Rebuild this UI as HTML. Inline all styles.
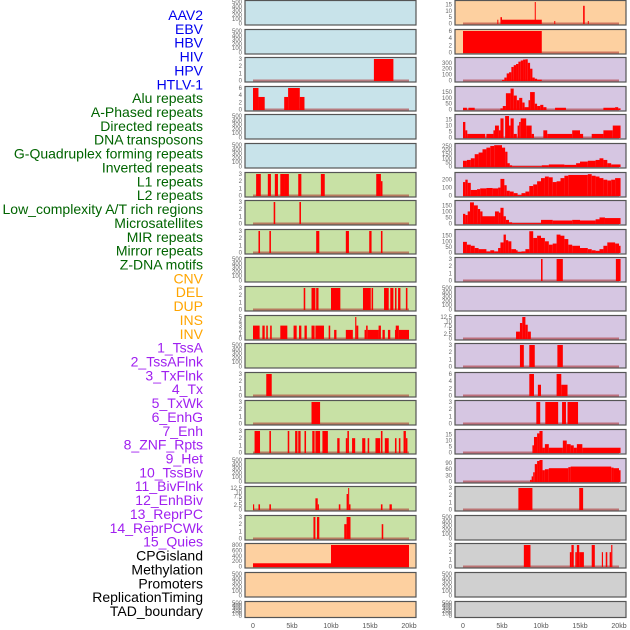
<!DOCTYPE html>
<html><head><meta charset="utf-8">
<style>
html,body{margin:0;padding:0;background:#fff;}
svg{display:block;font-family:"Liberation Sans",sans-serif;}
</style></head>
<body>
<svg id="chart" width="630" height="630" viewBox="0 0 630 630"></svg>
<script>
const labels=["AAV2","EBV","HBV","HIV","HPV","HTLV-1","Alu repeats","A-Phased repeats","Directed repeats","DNA transposons","G-Quadruplex forming repeats","Inverted repeats","L1 repeats","L2 repeats","Low_complexity A/T rich regions","Microsatellites","MIR repeats","Mirror repeats","Z-DNA motifs","CNV","DEL","DUP","INS","INV","1_TssA","2_TssAFlnk","3_TxFlnk","4_Tx","5_TxWk","6_EnhG","7_Enh","8_ZNF_Rpts","9_Het","10_TssBiv","11_BivFlnk","12_EnhBiv","13_ReprPC","14_ReprPCWk","15_Quies","CPGisland","Methylation","Promoters","ReplicationTiming","TAD_boundary"];
const labelColors=["#0000ee","#0000ee","#0000ee","#0000ee","#0000ee","#0000ee","#006400","#006400","#006400","#006400","#006400","#006400","#006400","#006400","#006400","#006400","#006400","#006400","#006400","#ffa500","#ffa500","#ffa500","#ffa500","#ffa500","#a020f0","#a020f0","#a020f0","#a020f0","#a020f0","#a020f0","#a020f0","#a020f0","#a020f0","#a020f0","#a020f0","#a020f0","#a020f0","#a020f0","#a020f0","#000","#000","#000","#000","#000"];
const xTicks=[0,5,10,15,20];
const xTickLabels=["0","5kb","10kb","15kb","20kb"];
const emptyTicks=[0,100,200,300,400,500];
// left column segments [startKb,endKb,value]
const segL2=[[15.5,18,3]];
const segL3=[[0,0.7,6],[0.7,1.5,3.5],[4,4.5,3.5],[4.5,6,6],[6,6.6,3.5]];
const segL6=[[0.4,1.0,3],[1.9,2.3,3],[2.8,3.2,3],[3.5,4.1,3],[4.1,4.6,3],[5.8,6.2,3],[8.7,9.2,3],[15.8,16.4,3],[16.4,16.6,2]];
const segL7=[[2.65,2.85,3],[5.95,6.15,3]];
const segL8=[[0.7,0.9,3],[2.1,2.3,3],[8.1,8.5,3],[11.9,12.3,3],[14.9,15.2,3],[16.4,16.6,3]];
const segL10=[[6.5,6.7,3],[7.5,8.0,3],[8.1,8.4,3],[10.0,11.2,3],[14.1,15.1,3],[15.2,15.4,3],[16.8,17.4,3],[17.6,18.0,3],[18.2,18.4,3],[18.6,18.9,3],[19.6,19.8,3]];
const segL11=[[0,0.85,3],[1.2,1.5,3],[1.7,1.9,3],[2.2,2.4,3],[3.5,4.4,3],[5.2,5.6,3],[5.9,6.2,3],[6.6,6.9,3],[7.5,7.9,3],[8.0,9.1,3],[9.7,9.9,3],[10.4,10.7,2],[11.9,12.8,2],[13.1,13.25,5],[13.25,13.5,3],[14.3,14.5,2],[14.5,14.7,3],[14.7,16.1,2],[16.1,16.4,3],[16.6,16.9,2],[17.3,17.6,2],[18.2,18.3,2],[18.3,18.7,3],[18.7,20,2]];
const segL13=[[1.7,2.4,3]];
const segL14=[[7.5,8.6,3]];
const segL15=[[0.2,0.9,3],[2.1,2.3,3],[4.45,4.65,3],[5.4,5.7,3],[5.8,6.1,3],[6.6,6.8,3],[7.6,7.9,3],[8.0,8.6,3],[8.9,9.6,3],[10.8,11.1,2],[11.9,12.1,2],[12.1,12.3,3],[12.7,13.1,2],[14.0,14.4,2],[14.7,14.9,2],[15.7,16.3,2],[16.4,16.6,3],[16.9,17.4,2],[18.2,18.4,2],[18.7,18.9,2],[19.3,19.6,3],[19.6,19.8,2]];
const segL17=[[0,0.15,3],[0.7,0.9,3],[2.1,2.3,3],[8.0,8.3,6.5],[8.3,8.45,3],[11.0,11.2,3],[12.0,12.2,9],[12.2,12.3,12.5],[12.3,12.5,3],[16.4,16.6,3],[17.5,17.8,3]];
const segL18=[[7.75,8.0,3],[8.2,8.5,3],[11.7,12.0,2],[12.0,12.5,3],[16.5,16.7,2]];
const segL19=[[0,10,120],[10,20,800]];
// right column segments
const segR0=[[4.4,4.5,3],[4.8,5.0,5],[5.0,10.1,3],[9.2,9.3,17],[11.7,11.8,2],[15.4,15.6,14],[16.0,16.1,2]];
const segR1=[[0,10.1,6]];
const segR2=[[5.0,5.3,10],[5.3,5.6,50],[5.6,5.9,120],[5.9,6.2,140],[6.2,6.5,230],[6.5,6.8,260],[6.8,7.1,280],[7.1,7.4,320],[7.4,7.7,340],[7.7,8.0,355],[8.0,8.3,360],[8.3,8.6,300],[8.6,8.9,200],[8.9,9.2,50],[9.2,9.5,30],[9.5,10.1,15]];
const segR3=[[0,0.5,15],[0.7,1.5,15],[4.8,5.1,10],[5.1,5.5,30],[5.5,6.1,140],[6.1,6.5,180],[6.5,6.9,120],[6.9,7.2,80],[7.2,7.6,100],[7.6,7.9,60],[7.9,8.4,20],[8.4,8.6,80],[8.6,9.2,150],[9.2,9.5,50],[9.5,9.9,30],[9.9,10.3,40],[10.3,10.7,20],[11.8,13.2,15],[18.0,19.5,15],[19.5,19.9,20],[19.9,20.2,10]];
const segR4=[[0,0.3,13],[0.3,0.55,6],[0.55,2.85,3],[3.0,3.9,3],[3.9,4.1,6],[4.1,4.6,10],[4.6,4.8,6],[4.8,5.2,16],[5.4,5.9,18],[5.9,6.1,10],[6.1,6.5,16],[6.5,6.9,3],[7.0,7.2,10],[7.2,7.4,13],[7.4,8.1,16],[8.1,8.8,10],[8.8,9.1,3],[10.3,10.8,6],[10.8,14.0,3],[14.0,15.0,6],[15.0,15.4,3],[16.5,18.0,3],[18.0,19.2,6],[19.2,20.2,10]];
const segR5=[[0,0.5,70],[0.5,1.0,80],[1.0,1.5,100],[1.5,2.0,150],[2.0,2.5,170],[2.5,3.0,210],[3.0,3.5,230],[3.5,4.0,250],[4.0,5.0,260],[5.0,5.4,230],[5.4,5.7,180],[5.7,6.0,40],[6.0,6.3,15],[6.3,10.1,3],[10.1,11.0,15],[11.0,13.0,25],[13.0,14.5,20],[14.5,15.0,40],[15.0,16.0,60],[16.0,17.0,70],[17.0,17.5,80],[17.5,18.0,100],[18.0,18.5,80],[18.5,19.0,40],[19.0,20.2,25]];
const segR6=[[0,0.3,170],[0.3,0.6,200],[0.6,1.0,160],[1.0,1.8,70],[1.8,2.2,80],[2.2,3.0,90],[3.0,3.8,95],[3.8,4.5,90],[4.5,4.8,100],[4.8,5.3,210],[5.3,5.6,130],[5.6,6.0,60],[6.0,6.5,50],[6.5,7.0,30],[7.0,7.5,5],[7.5,8.0,30],[8.0,8.5,50],[8.5,9.0,120],[9.0,9.5,140],[9.5,10.0,180],[10.0,10.5,220],[10.5,11.0,240],[11.0,11.5,230],[11.5,12.0,170],[12.0,12.5,180],[12.5,13.0,220],[13.0,13.5,250],[13.5,16.0,260],[16.0,16.5,270],[16.5,17.0,250],[17.0,17.5,240],[17.5,18.0,220],[18.0,18.5,200],[18.5,19.0,190],[19.0,19.5,200],[19.5,20.2,220]];
const segR7=[[0,0.3,80],[0.3,0.6,70],[0.6,0.9,100],[0.9,1.4,175],[1.4,1.9,150],[1.9,2.2,120],[2.2,2.5,100],[2.5,4.1,60],[4.1,4.6,100],[4.6,4.8,90],[4.8,5.2,130],[5.2,5.5,60],[5.5,5.9,30],[5.9,6.3,10],[6.3,10.0,3],[10.0,11.5,30],[11.5,14.0,25],[14.0,15.0,30],[15.0,17.0,25],[17.0,17.5,35],[17.5,18.2,50],[18.2,20.2,45]];
const segR8=[[0,0.5,95],[0.5,1.0,70],[1.0,1.5,60],[1.5,2.0,40],[2.0,3.0,30],[3.0,3.5,10],[3.5,4.0,20],[4.0,4.5,10],[4.5,4.8,40],[4.8,5.2,90],[5.2,5.5,160],[5.5,5.8,110],[5.8,6.2,100],[6.2,6.8,30],[6.8,7.0,20],[7.0,7.5,5],[7.5,8.0,10],[8.0,8.5,30],[8.5,9.0,190],[9.0,9.5,130],[9.5,10.0,150],[10.0,10.5,130],[10.5,11.0,100],[11.0,11.5,70],[11.5,12.0,80],[12.0,12.5,160],[12.5,13.0,150],[13.0,13.5,120],[13.5,14.0,70],[14.0,15.0,60],[15.0,16.0,40],[16.0,16.5,30],[16.5,17.0,20],[17.0,17.5,15],[17.5,18.0,30],[18.0,18.5,60],[18.5,19.5,90],[19.5,20.0,80],[20.0,20.2,60]];
const segR9=[[10.0,10.2,3],[12.0,12.8,3],[19.6,20.2,3]];
const segR11=[[6.8,7.3,4],[7.3,7.6,9],[7.6,8.0,12.5],[8.0,8.3,8],[8.3,8.7,4]];
const segR12=[[7.3,7.8,3],[8.5,9.2,3],[12.1,12.8,3]];
const segR13=[[8.5,9.1,6],[9.6,10.0,3],[12.0,12.6,6],[12.6,13.4,3]];
const segR14=[[9.4,9.9,3],[10.55,12.2,3],[12.7,13.2,3],[13.4,14.75,3]];
const segR15=[[8.9,9.1,6],[9.1,9.5,13],[9.5,9.8,16],[9.8,10.2,18],[10.2,10.5,4],[10.5,11.0,7],[11.0,12.8,4],[12.8,13.3,10],[13.3,13.8,7],[13.8,14.2,6],[14.2,14.6,4],[14.6,15.3,7],[15.3,20.2,4]];
const segR16=[[8.6,8.8,8],[8.8,9.0,25],[9.0,9.2,45],[9.2,9.5,85],[9.5,9.8,100],[9.8,10.2,105],[10.2,10.5,55],[10.5,11.0,60],[11.0,13.5,65],[13.5,13.8,70],[13.8,19.0,73],[19.0,19.3,68],[19.3,20.0,65],[20.0,20.2,55]];
const segR17=[[7.1,8.9,3],[14.9,15.4,3]];
const segR19=[[7.8,8.65,3],[13.7,13.9,2],[13.9,14.2,3],[14.4,14.6,2],[14.6,14.9,3],[14.9,15.5,2],[16.5,16.9,3],[17.8,17.95,2],[18.3,18.5,2],[18.8,19.0,2],[19.0,19.15,3]];

const BLUE="#c8e3ea",GREEN="#c8e1a5",ORANGE="#fdd0a0",PURPLE="#d6c6e2",GRAY="#d0d0d0";
// panel definitions: [segments, ticks, ymax, bg]
const leftPanels=[
 [null,null,0,BLUE],[null,null,0,BLUE],[segL2,[0,1,2,3],3,BLUE],[segL3,[0,2,4,6],6,BLUE],[null,null,0,BLUE],[null,null,0,BLUE],
 [segL6,[0,1,2,3],3,GREEN],[segL7,[0,1,2,3],3,GREEN],[segL8,[0,1,2,3],3,GREEN],[null,null,0,GREEN],[segL10,[0,1,2,3],3,GREEN],
 [segL11,[0,1,2,3,4,5],5,GREEN],[null,null,0,GREEN],[segL13,[0,1,2,3],3,GREEN],[segL14,[0,1,2,3],3,GREEN],[segL15,[0,1,2,3],3,GREEN],
 [null,null,0,GREEN],[segL17,[0,2.5,5,7.5,10,12.5],12.5,GREEN],[segL18,[0,1,2,3],3,GREEN],
 [segL19,[0,200,400,600,800],800,ORANGE],[null,null,0,ORANGE],[null,null,0,ORANGE]];
const rightPanels=[
 [segR0,[0,5,10,15],17,ORANGE],[segR1,[0,2,4,6],6,ORANGE],
 [segR2,[0,100,200,300],365,PURPLE],[segR3,[0,50,100,150],185,PURPLE],[segR4,[0,5,10,15],18,PURPLE],[segR5,[0,50,100,150,200,250],262,PURPLE],
 [segR6,[0,100,200],272,PURPLE],[segR7,[0,50,100,150],178,PURPLE],[segR8,[0,50,100,150],192,PURPLE],[segR9,[0,1,2,3],3,PURPLE],
 [null,null,0,PURPLE],[segR11,[0,2.5,5,7.5,10,12.5],12.5,PURPLE],[segR12,[0,1,2,3],3,PURPLE],[segR13,[0,2,4,6],6,PURPLE],
 [segR14,[0,1,2,3],3,PURPLE],[segR15,[0,5,10,15],18,PURPLE],[segR16,[0,30,60,90],105,PURPLE],
 [segR17,[0,1,2,3],3,GRAY],[null,null,0,GRAY],[segR19,[0,1,2,3],3,GRAY],[null,null,0,GRAY],[null,null,0,GRAY]];

const NS="http://www.w3.org/2000/svg";
const svg=document.getElementById('chart');
function mk(tag,attrs,parent){const e=document.createElementNS(NS,tag);for(const k in attrs)e.setAttribute(k,attrs[k]);(parent||svg).appendChild(e);return e;}

// labels
labels.forEach((t,i)=>{
  const el=mk('text',{x:203,y:15+i*13.86+5,'text-anchor':'end','font-size':'14',fill:labelColors[i]});
  el.textContent=t;
  
  
});

function drawPanel(p,col,i){
  const px=col===0?245:455, pw=171;
  const top=Math.round(i*28.6)+0.5;
  const ph=i===21?16:24.5;
  const g=mk('g',{});
  
  
  mk('rect',{x:px,y:top,width:pw,height:ph,fill:p[3],stroke:'none'},g);
  const xs=k=>px+8+k*7.8;
  const y0=top+ph-1.5, y1=top+1.5;
  const ticks=p[1]||emptyTicks, ymax=p[1]?p[2]:500;
  const ys=v=>y0-(v/ymax)*(y0-y1);
  ticks.forEach(v=>{
    const t=mk('text',{x:px-3,y:ys(v)+2,'text-anchor':'end','font-size':'6',fill:'#666'},g);
    t.textContent=String(v);
    
    
  });
  if(p[0]){
    const bl=mk('line',{x1:xs(0),x2:xs(20),y1:y0,y2:y0,stroke:'rgba(170,40,40,0.55)','stroke-width':2},g);
    
    
    p[0].forEach(s=>{
      const r=mk('rect',{x:xs(s[0]),y:ys(s[2]),width:Math.max(1,xs(s[1])-xs(s[0])),height:y0-ys(s[2])+0.5,fill:'#ff0000'},g);
      
      
    });
  }
  mk('rect',{x:px,y:top,width:pw,height:ph,fill:'none',stroke:'#555','stroke-width':1.2},g);
}
leftPanels.forEach((p,i)=>drawPanel(p,0,i));
rightPanels.forEach((p,i)=>drawPanel(p,1,i));

[245,455].forEach((px,c)=>{
  xTicks.forEach((k,j)=>{
    const t=mk('text',{x:px+8+k*7.8,y:628,'text-anchor':'middle','font-size':'7',fill:'#555'});
    t.textContent=xTickLabels[j];
    
    
  });
});
</script>
</body></html>
